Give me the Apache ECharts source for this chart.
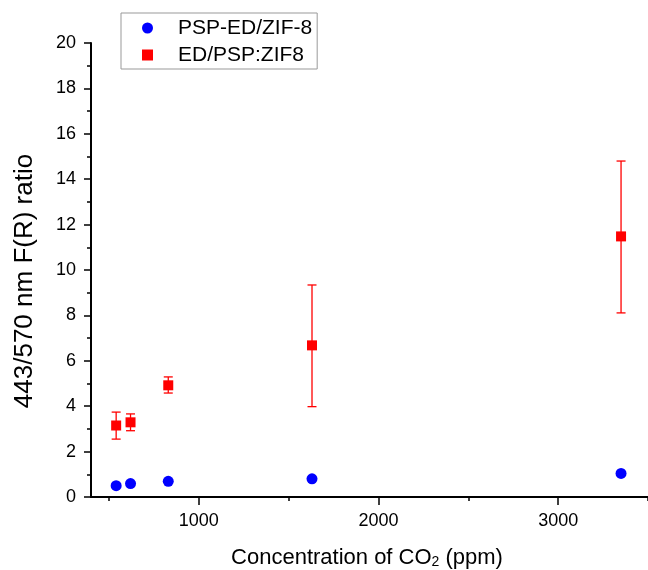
<!DOCTYPE html>
<html>
<head>
<meta charset="utf-8">
<script src="https://cdn.jsdelivr.net/npm/echarts@6/dist/echarts.min.js"></script>
<style>
  html, body { margin: 0; padding: 0; background: #fff; }
  #main { width: 648px; height: 570px; }
</style>
</head>
<body>
<div id="main"></div>
<script>
// CO2 concentration (ppm)
var concentration = [540, 620, 830, 1630, 3350];
// PSP-ED/ZIF-8
var pspEdZif = [0.50, 0.59, 0.69, 0.80, 1.04];
// ED/PSP:ZIF8 with error bar limits
var edPspZif = [3.15, 3.29, 4.92, 6.68, 11.48];
var edLow = [2.55, 2.92, 4.58, 3.98, 8.11];
var edHigh = [3.74, 3.66, 5.29, 9.34, 14.80];

var xMajor = [1000, 2000, 3000];
var xMinor = [500, 1500, 2500, 3500];

var font = "'Liberation Sans', Arial, sans-serif";

function pairs(xs, ys) {
  return xs.map(function (x, i) { return [x, ys[i]]; });
}

var chart = echarts.init(document.getElementById("main"));
chart.setOption({
  animation: false,
  textStyle: { fontFamily: font, color: "#000" },
  grid: { left: 91, top: 43, bottom: 73, right: -6, containLabel: false },
  legend: {
    orient: "vertical",
    left: 121,
    top: 13,
    padding: [4, 5, 3, 21],
    itemWidth: 11,
    itemHeight: 11,
    itemGap: 5,
    borderColor: "#999",
    borderWidth: 1,
    textStyle: { fontSize: 21, lineHeight: 22, color: "#000", fontFamily: font, padding: [0, 0, 0, 20] },
    data: [
      { name: "PSP-ED/ZIF-8", icon: "circle" },
      { name: "ED/PSP:ZIF8", icon: "path://M0,0H10V10H0Z" },
    ],
  },
  xAxis: [
    {
      type: "value",
      min: 400,
      max: 3500,
      axisLine: { show: true, lineStyle: { color: "#000", width: 2 } },
      axisTick: { show: true, inside: false, length: 8, customValues: xMajor, lineStyle: { color: "#000", width: 1.5 } },
      axisLabel: {
        show: true, margin: 15, fontSize: 18, color: "#000", fontFamily: font, customValues: xMajor,
        formatter: function (v) { return String(v); },
      },
      splitLine: { show: false },
    },
    {
      type: "value",
      min: 400,
      max: 3500,
      position: "bottom",
      axisLine: { show: false },
      axisTick: { show: true, inside: false, length: 4, customValues: xMinor, lineStyle: { color: "#000", width: 1.5 } },
      axisLabel: { show: false },
      splitLine: { show: false },
    },
  ],
  yAxis: {
    type: "value",
    min: 0,
    max: 20,
    interval: 2,
    axisLine: { show: true, lineStyle: { color: "#000", width: 2 } },
    axisTick: { show: true, inside: false, length: 7, lineStyle: { color: "#000", width: 1.5 } },
    minorTick: { show: true, splitNumber: 2, length: 4, lineStyle: { color: "#000", width: 1.5 } },
    axisLabel: { margin: 15, fontSize: 18, color: "#000", fontFamily: font },
    splitLine: { show: false },
  },
  graphic: [
    {
      type: "text",
      x: 367,
      y: 556,
      style: {
        text: "{a|Concentration of CO}{s|2}{a| (ppm)}",
        align: "center",
        verticalAlign: "middle",
        fill: "#000",
        rich: {
          a: { fontSize: 22, fontFamily: font, lineHeight: 26, verticalAlign: "bottom" },
          s: { fontSize: 14, fontFamily: font, lineHeight: 20, verticalAlign: "bottom" },
        },
      },
    },
    {
      type: "text",
      x: 25,
      y: 281,
      rotation: Math.PI / 2,
      style: {
        text: "443/570 nm F(R) ratio",
        align: "center",
        verticalAlign: "middle",
        fill: "#000",
        fontSize: 26,
        fontFamily: font,
      },
    },
  ],
  series: [
    {
      name: "errorbars",
      type: "custom",
      z: 1,
      renderItem: function (params, api) {
        var x = api.value(0);
        var lo = api.coord([x, api.value(1)]);
        var hi = api.coord([x, api.value(2)]);
        var cap = 4.5;
        var st = { stroke: "#ff0000", lineWidth: 1.3 };
        return {
          type: "group",
          children: [
            { type: "line", shape: { x1: lo[0], y1: lo[1], x2: hi[0], y2: hi[1] }, style: st },
            { type: "line", shape: { x1: lo[0] - cap, y1: lo[1], x2: lo[0] + cap, y2: lo[1] }, style: st },
            { type: "line", shape: { x1: hi[0] - cap, y1: hi[1], x2: hi[0] + cap, y2: hi[1] }, style: st },
          ],
        };
      },
      data: concentration.map(function (x, i) { return [x, edLow[i], edHigh[i]]; }),
    },
    {
      name: "PSP-ED/ZIF-8",
      type: "scatter",
      symbol: "circle",
      symbolSize: 11,
      itemStyle: { color: "#0000ff", opacity: 1 },
      z: 3,
      data: pairs(concentration, pspEdZif),
    },
    {
      name: "ED/PSP:ZIF8",
      type: "scatter",
      symbol: "rect",
      symbolSize: 10,
      itemStyle: { color: "#ff0000", opacity: 1 },
      z: 3,
      data: pairs(concentration, edPspZif),
    },
  ],
});
</script>
</body>
</html>
